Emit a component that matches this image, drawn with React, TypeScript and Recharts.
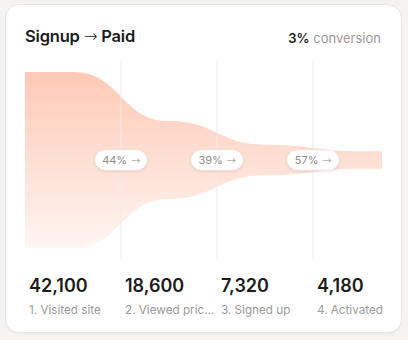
import React from 'react';
import { AreaChart, Area, XAxis, YAxis, ReferenceLine, ReferenceDot } from 'recharts';

const stageLabels = ['1. Visited site', '2. Viewed pricing', '3. Signed up', '4. Activated'];
const stageCounts = [42100, 18600, 7320, 4180];
const stepRates = ['44%', '39%', '57%'];
const overallConversion = '3%';

const FONT = 'Inter, "Noto Sans", sans-serif';
const ARROW_FONT = '"DejaVu Sans", "Noto Sans", sans-serif';

// Pill shown on each stage boundary
const Pill = ({ cx, cy, text }: { cx?: number; cy?: number; text: string }) => {
  if (cx == null || cy == null) return null;
  const w = 52;
  const h = 20;
  return (
    <g>
      <rect
        x={cx - w / 2}
        y={cy - h / 2}
        width={w}
        height={h}
        rx={10}
        fill="#fff"
        stroke="#ececec"
        strokeWidth={0.8}
        filter="url(#pillShadow)"
      />
      <text x={cx} y={cy + 4} textAnchor="middle" fontSize={11} fontFamily={FONT} fill="#8c8c8c">
        {text}
        <tspan fontFamily={ARROW_FONT} fontWeight={200}> →</tspan>
      </text>
    </g>
  );
};

export default function App() {
  // symmetric band around zero, flat at both ends, one point per stage centre
  const funnelData = React.useMemo(() => {
    const band = (c: number) => [-c / 2, c / 2];
    const pts = [{ x: 0, range: band(stageCounts[0]) }];
    stageCounts.forEach((c, i) => pts.push({ x: i + 0.5, range: band(c) }));
    pts.push({ x: stageCounts.length, range: band(stageCounts[stageCounts.length - 1]) });
    return pts;
  }, []);

  const half = stageCounts[0] / 2;

  return (
    <div
      style={{
        position: 'absolute',
        left: 0,
        top: 0,
        width: 408,
        height: 340,
        background: '#f4f3f1',
        fontFamily: FONT,
      }}
    >
      <div
        style={{
          position: 'absolute',
          left: 5,
          top: 4,
          width: 397,
          height: 329,
          boxSizing: 'border-box',
          background: '#fff',
          borderRadius: 14,
          border: '1px solid #e9e7e4',
          boxShadow: '0 1px 2px rgba(0,0,0,0.04)',
          overflow: 'hidden',
        }}
      >
        <div
          style={{
            position: 'absolute',
            left: 19,
            top: 21,
            fontSize: 16.5,
            fontWeight: 600,
            color: '#1c1c1c',
            letterSpacing: -0.2,
            whiteSpace: 'nowrap',
          }}
        >
          Signup <span style={{ fontFamily: ARROW_FONT, fontWeight: 200 }}>→</span> Paid
        </div>
        <div
          style={{
            position: 'absolute',
            right: 20,
            top: 25,
            fontSize: 13,
            color: '#9a9a9a',
          }}
        >
          <span style={{ fontWeight: 600, color: '#1c1c1c' }}>{overallConversion}</span> conversion
        </div>

        <div style={{ position: 'absolute', left: 19, top: 55, width: 357, height: 200, overflow: 'hidden' }}>
          <AreaChart width={384} height={200} data={funnelData} margin={{ top: 0, right: 0, bottom: 0, left: 0 }}>
            <defs>
              <linearGradient id="funnelFill" x1="0" y1="0" x2="0" y2="1">
                <stop offset="0%" stopColor="#ffc9b6" />
                <stop offset="100%" stopColor="#fff5f1" />
              </linearGradient>
              <filter id="pillShadow" x="-30%" y="-50%" width="160%" height="220%">
                <feDropShadow dx="0" dy="1" stdDeviation="1.5" floodColor="#000" floodOpacity="0.12" />
              </filter>
            </defs>
            <XAxis type="number" dataKey="x" domain={[0, stageCounts.length]} hide />
            <YAxis type="number" domain={[-half, half]} padding={{ top: 12, bottom: 12 }} hide />
            <Area
              type="bumpX"
              dataKey="range"
              stroke="none"
              fill="url(#funnelFill)"
              fillOpacity={1}
              isAnimationActive={false}
              activeDot={false}
              dot={false}
            />
            {stepRates.map((_, i) => (
              <ReferenceLine key={`l${i}`} x={i + 1} stroke="#ededed" strokeWidth={1} />
            ))}
            {stepRates.map((r, i) => (
              <ReferenceDot
                key={`p${i}`}
                x={i + 1}
                y={0}
                r={0}
                shape={(p: any) => <Pill cx={p.cx} cy={p.cy} text={r} />}
              />
            ))}
          </AreaChart>
        </div>

        <div style={{ position: 'absolute', left: 23, top: 270, display: 'flex' }}>
          {stageCounts.map((c, i) => (
            <div key={i} style={{ width: 96 }}>
              <div style={{ fontSize: 18, fontWeight: 600, color: '#1c1c1c', lineHeight: '22px' }}>
                {c.toLocaleString('en-US')}
              </div>
              <div
                style={{
                  fontSize: 11.7,
                  color: '#9a9a9a',
                  marginTop: 6,
                  width: 91,
                  whiteSpace: 'nowrap',
                  overflow: 'hidden',
                  textOverflow: 'ellipsis',
                }}
              >
                {stageLabels[i]}
              </div>
            </div>
          ))}
        </div>
      </div>
    </div>
  );
}
